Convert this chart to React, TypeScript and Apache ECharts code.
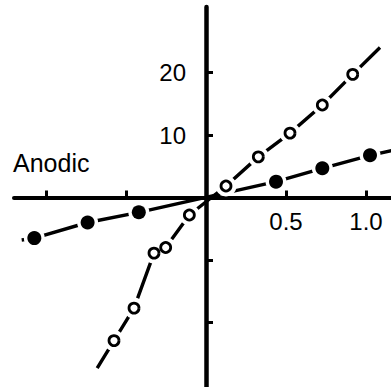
import React, { useEffect, useRef } from "react";
import * as echarts from "echarts";

// Open-circle series (x, y)
const openX = [-0.575, -0.45, -0.325, -0.252, -0.104, 0.125, 0.327, 0.525, 0.727, 0.917];
const openY = [-22.9, -17.7, -8.9, -8.0, -2.8, 1.84, 6.5, 10.3, 14.8, 19.7];
// Filled-circle series (x, y)
const filledX = [-1.073, -0.74, -0.42, 0.4375, 0.727, 1.025];
const filledY = [-6.5, -4.0, -2.37, 2.53, 4.67, 6.75];
// Where each drawn line starts and ends (beyond the outer points)
const openLineStart = [-0.68, -27.3];
const openLineEnd = [1.0875, 24.0];
const filledLineStart = [-1.152, -6.8];
const filledLineEnd = [1.16, 7.5];
// Axis ticks and labels
const xTicks = [-1, -0.5, 0.5, 1];
const xLabels = [0.5, 1];
const yTicks = [-20, -10, 10, 20];
const yLabels = [10, 20];
const sideLabel = "Anodic";

const FONT = "Liberation Sans, Arial, sans-serif";

const X_MIN = -1.2;
const X_MAX = 1.15625;
const Y_MIN = -30.32;
const Y_MAX = 30.48;
const GRID = { left: 14, top: 7, width: 377, height: 380 };

export default function App() {
  const ref = useRef<HTMLDivElement>(null);
  useEffect(() => {
    if (!ref.current) return;
    const chart = echarts.init(ref.current, undefined, { renderer: "svg" });
    const openPts = openX.map((x, i) => [x, openY[i]]);
    const filledPts = filledX.map((x, i) => [x, filledY[i]]);
    const openLine = [openLineStart, ...openPts, openLineEnd];
    const filledLine = [filledLineStart, ...filledPts, filledLineEnd];
    // move each axis from the grid edge onto the other axis's zero
    const zeroXOffset = -((0 - X_MIN) / (X_MAX - X_MIN)) * GRID.width;
    const zeroYOffset = -((0 - Y_MIN) / (Y_MAX - Y_MIN)) * GRID.height;
    chart.setOption({
      animation: false,
      backgroundColor: "#ffffff",
      grid: { ...GRID, containLabel: false, outerBoundsMode: "none" },
      xAxis: {
        type: "value",
        min: X_MIN,
        max: X_MAX,
        position: "bottom",
        offset: zeroYOffset,
        axisLine: { onZero: false, lineStyle: { color: "#000", width: 4 } },
        axisTick: {
          show: true,
          inside: true,
          length: 7,
          customValues: xTicks,
          lineStyle: { color: "#000", width: 3 },
        },
        axisLabel: {
          show: true,
          customValues: xLabels,
          margin: 12,
          color: "#000",
          fontSize: 24,
          fontFamily: FONT,
          formatter: (v: number) => v.toFixed(1),
        },
        splitLine: { show: false },
      },
      yAxis: {
        type: "value",
        min: Y_MIN,
        max: Y_MAX,
        position: "left",
        offset: zeroXOffset,
        axisLine: { onZero: false, lineStyle: { color: "#000", width: 4.5 } },
        axisTick: {
          show: true,
          inside: true,
          length: 7,
          customValues: yTicks,
          lineStyle: { color: "#000", width: 3 },
        },
        axisLabel: {
          show: true,
          customValues: yLabels,
          margin: 20,
          color: "#000",
          fontSize: 24,
          fontFamily: FONT,
          formatter: (v: number) => String(v),
        },
        splitLine: { show: false },
      },
      graphic: [
        {
          type: "text",
          left: 13,
          top: 150,
          style: {
            text: sideLabel,
            fill: "#000",
            fontSize: 25,
            fontFamily: FONT,
          },
        },
      ],
      series: [
        {
          type: "line",
          data: openLine,
          symbol: "none",
          lineStyle: { color: "#000", width: 3.4 },
          z: 2,
        },
        {
          type: "line",
          data: filledLine,
          symbol: "none",
          lineStyle: { color: "#000", width: 3.4 },
          z: 2,
        },
        {
          type: "scatter",
          data: [...openPts, ...filledPts],
          symbol: "circle",
          symbolSize: 21,
          itemStyle: { color: "#fff", opacity: 1 },
          z: 3,
        },
        {
          type: "scatter",
          data: openPts,
          symbol: "circle",
          symbolSize: 10,
          itemStyle: { color: "#fff", borderColor: "#000", borderWidth: 2.8, opacity: 1 },
          z: 4,
        },
        {
          type: "scatter",
          data: filledPts,
          symbol: "circle",
          symbolSize: 14,
          itemStyle: { color: "#000", opacity: 1 },
          z: 4,
        },
      ],
    });
    return () => chart.dispose();
  }, []);
  return (
    <div
      ref={ref}
      style={{ position: "absolute", left: 0, top: 0, width: 391, height: 387 }}
    />
  );
}
